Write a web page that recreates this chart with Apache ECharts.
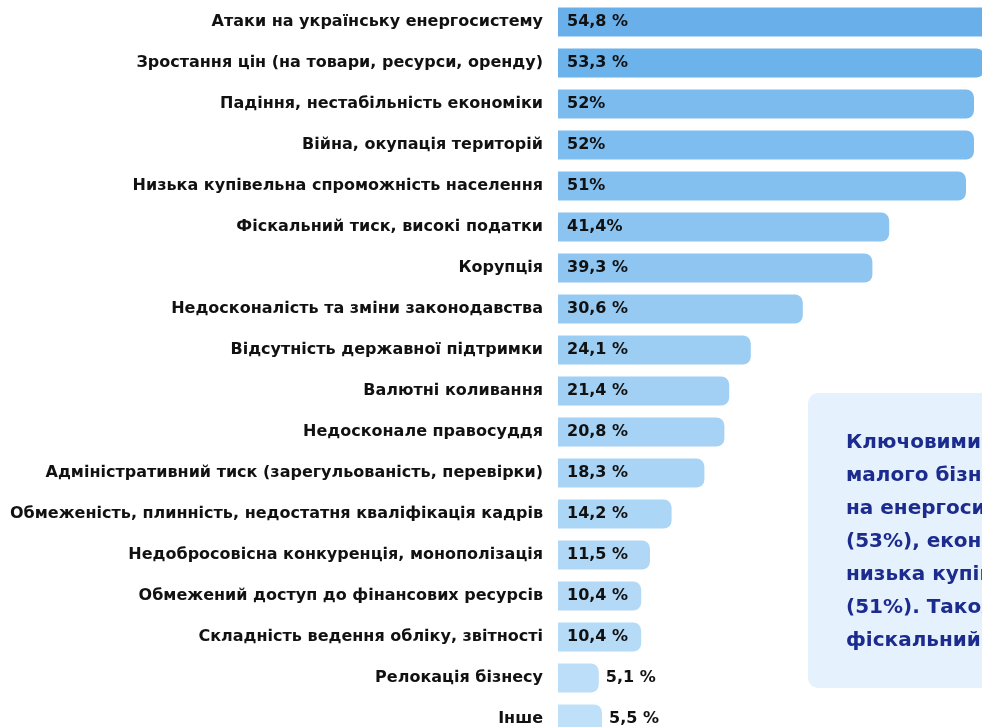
<!DOCTYPE html>
<html><head><meta charset="utf-8">
<script src="https://cdn.jsdelivr.net/npm/echarts@6/dist/echarts.min.js"></script>
<style>html,body{margin:0;padding:0;background:#fff}#c{width:982px;height:727px}</style>
</head><body><div id="c"></div>
<script>
const categories = [
 "Атаки на українську енергосистему",
 "Зростання цін (на товари, ресурси, оренду)",
 "Падіння, нестабільність економіки",
 "Війна, окупація територій",
 "Низька купівельна спроможність населення",
 "Фіскальний тиск, високі податки",
 "Корупція",
 "Недосконалість та зміни законодавства",
 "Відсутність державної підтримки",
 "Валютні коливання",
 "Недосконале правосуддя",
 "Адміністративний тиск (зарегульованість, перевірки)",
 "Обмеженість, плинність, недостатня кваліфікація кадрів",
 "Недобросовісна конкуренція, монополізація",
 "Обмежений доступ до фінансових ресурсів",
 "Складність ведення обліку, звітності",
 "Релокація бізнесу",
 "Інше"
];
const values = [54.8, 53.3, 52, 52, 51, 41.4, 39.3, 30.6, 24.1, 21.4, 20.8, 18.3, 14.2, 11.5, 10.4, 10.4, 5.1, 5.5];
const valueLabels = ["54,8 %", "53,3 %", "52%", "52%", "51%", "41,4%", "39,3 %", "30,6 %", "24,1 %", "21,4 %", "20,8 %", "18,3 %", "14,2 %", "11,5 %", "10,4 %", "10,4 %", "5,1 %", "5,5 %"];
const noteLines = [
 "Ключовими проблемами",
 "малого бізнесу є атаки",
 "на енергосистему (55%), ціни",
 "(53%), економічна криза (52%),",
 "низька купівельна спроможність",
 "(51%). Також важливими є",
 "фіскальний тиск і корупція."
];

const barColors = ["#69b0ea","#6cb2eb","#7bbbee","#7ebdef","#83c0f0","#8bc4f1","#8fc6f1","#96caf2","#9ccdf3","#a1d0f4","#a5d2f5","#a9d4f5","#acd6f5","#b0d8f6","#b3d9f7","#b6dbf7","#bcdef8","#bfe0f9"];

const chart = echarts.init(document.getElementById('c'), null, {renderer:'canvas'});
const FONT = '"DejaVu Sans", sans-serif';
chart.setOption({
  backgroundColor: '#ffffff',
  animation: false,
  grid: {left: 558, top: 1.5, width: 440, height: 738, containLabel: false, outerBoundsMode: 'none'},
  xAxis: {type: 'value', min: 0, max: 55, show: false},
  yAxis: {
    type: 'category', data: categories, inverse: true,
    axisLine: {show: false}, axisTick: {show: false}, splitLine: {show: false},
    axisLabel: {margin: 15, color: '#111111', fontFamily: FONT, fontWeight: 'bold', fontSize: 16}
  },
  series: [{
    type: 'bar',
    barWidth: 29,
    clip: false,
    data: values.map((v, i) => ({
      value: v,
      itemStyle: {color: barColors[i], borderRadius: [0, 8, 8, 0]},
      label: v < 8 ? {position: 'right', distance: 7} : {position: 'insideLeft', distance: 9}
    })),
    label: {
      show: true,
      formatter: p => valueLabels[p.dataIndex],
      color: '#111111', fontFamily: FONT, fontWeight: 'bold', fontSize: 16
    }
  }],
  graphic: [
    {type: 'rect', left: 808, top: 393, shape: {width: 220, height: 295, r: 10}, style: {fill: '#e5f1fc'}, z: 10},
    {type: 'text', left: 846, top: 426, z: 11,
     style: {text: noteLines.join('\n'), fill: '#1c2b8e', font: 'bold 20px "DejaVu Sans", sans-serif', lineHeight: 33}}
  ]
});
</script></body></html>
